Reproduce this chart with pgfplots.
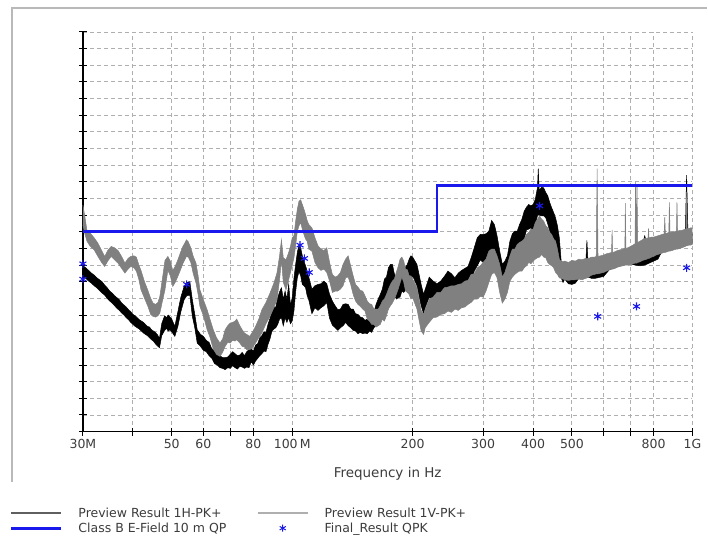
\documentclass[border=0pt]{standalone}
\usepackage{fontspec}
\setmainfont{DejaVu Sans}
\usepackage{pgfplots}
\pgfplotsset{compat=1.18}
\usepackage{pgfplotstable}
\usepgfplotslibrary{fillbetween}
\definecolor{limitblue}{RGB}{25,25,235}
\definecolor{tracegray}{RGB}{128,128,128}
\definecolor{gridgray}{RGB}{175,175,175}
\definecolor{labelgray}{RGB}{60,60,60}
\definecolor{legdark}{RGB}{95,95,95}
\definecolor{leglight}{RGB}{175,175,175}
\definecolor{framegray}{RGB}{185,185,185}

% Preview Result 1H-PK+ : lower / upper edge of the noisy trace (dBuV/m)
\pgfplotstableread{
f lo hi
30 23.3 24.9
30.5 23.0 24.6
31 22.6 24.2
31.5 22.3 23.8
32 21.9 23.5
32.5 21.6 23.1
33 21.2 22.8
33.5 20.8 22.5
34 20.5 22.0
34.5 20.0 21.6
35 19.6 21.1
35.5 19.3 20.8
36 18.9 20.4
36.5 18.5 20.1
37 18.2 19.8
37.5 17.8 19.3
38 17.5 19.0
38.5 17.1 18.7
39 16.8 18.3
39.5 16.4 18.0
40 16.1 17.6
40.5 15.8 17.4
41 15.6 17.1
41.5 15.4 16.8
42 15.1 16.6
42.5 14.8 16.4
43 14.6 16.1
43.5 14.4 15.8
44 14.1 15.7
44.5 13.8 15.3
45 13.6 15.1
45.5 13.2 14.9
46 12.9 14.6
46.6 12.6 14.0
47.2 14.4 16.2
48 15.2 17.4
48.5 15.5 17.1
49 15.1 17.5
49.5 15.3 17.2
50 15.0 16.9
50.9 14.3 15.8
51.8 15.8 18.0
52.7 18.0 20.2
53.7 19.8 21.8
54.5 20.4 22.4
55.5 20.5 22.5
56.3 17.3 19.8
57.1 15.6 17.6
57.9 13.3 15.3
59 12.8 14.6
60 12.2 14.3
61 12.0 13.7
62 11.4 13.4
63 11.0 12.4
64 10.2 12.1
65 10.0 11.6
66 9.6 11.4
67 9.5 11.1
68 9.3 11.1
69 9.6 11.2
70 9.5 11.6
71 9.9 12.0
72 9.6 11.7
73 9.4 11.4
74 9.8 11.5
75 9.7 11.9
76 9.5 11.4
77 9.7 12.0
78 9.6 12.3
79 10.5 12.4
80 10.0 12.1
81 10.6 13.0
82 11.0 13.2
83 11.4 14.1
84 11.7 14.4
85 12.1 15.0
86 12.0 14.9
87 13.1 16.1
88 13.9 17.0
89 15.1 18.0
90 15.4 18.6
91 15.6 18.7
92 16.1 20.1
93 16.9 21.0
94 17.1 21.6
95 15.9 19.9
96 17.1 21.1
97 16.4 19.9
98 17.1 22.1
99 16.2 19.0
100 16.6 20.1
101 18.1 23.0
102 21.0 25.1
103 23.1 26.9
104 24.0 28.1
105 23.4 27.6
106 22.1 26.4
107 21.9 25.6
108 21.6 24.9
109 20.4 24.1
110 19.8 23.2
112 17.7 21.4
114 18.6 21.9
116 18.2 22.1
118 18.6 22.2
120 18.9 22.6
122 19.4 22.2
124 17.0 20.6
126 16.0 19.6
128 15.6 18.9
130 15.2 18.3
132 15.6 18.4
134 15.9 19.1
136 16.4 19.2
138 15.9 19.1
140 15.6 18.4
142 15.2 18.4
144 15.1 17.7
146 14.7 17.6
148 14.9 17.2
150 14.7 17.1
152 14.8 16.7
154 14.7 16.9
156 15.1 16.9
158 14.9 17.4
160 15.6 17.9
162 15.9 19.1
164 16.9 19.9
166 17.4 20.6
168 18.6 21.4
170 19.4 22.9
172 20.1 23.2
174 20.9 24.6
176 22.1 25.1
178 21.4 25.1
180 20.6 23.7
182 19.9 23.1
184 20.1 22.9
186 20.2 23.4
188 21.1 23.9
190 20.9 24.6
192 21.3 24.7
194 21.4 25.1
196 22.6 25.9
198 22.9 26.4
200 23.4 26.2
205 21.9 25.1
210 18.9 22.1
213 17.7 20.6
215 18.6 21.4
220 20.2 23.2
225 19.8 22.6
230 19.7 22.2
235 20.0 22.6
240 20.1 23.3
245 20.9 24.1
250 20.6 23.7
255 20.2 23.1
260 20.6 23.8
265 21.1 24.2
270 21.2 24.5
275 21.6 24.8
280 22.4 26.1
285 24.1 27.6
290 24.9 29.1
295 25.8 29.6
300 25.4 29.6
305 25.9 29.7
310 25.9 30.1
315 27.1 31.7
320 26.9 31.1
325 25.6 29.4
330 22.9 27.1
335 22.8 25.1
340 22.9 25.6
345 23.6 26.4
350 24.9 28.6
355 26.1 29.7
360 26.2 30.1
365 26.6 30.1
370 26.9 31.1
375 28.1 31.9
380 28.9 33.1
385 30.3 33.7
390 30.4 34.1
395 30.6 33.9
400 30.2 34.1
405 31.1 34.9
410 32.4 36.6
412 32.6 39.5
414 32.5 36.2
420 32.4 36.7
425 32.4 36.6
430 32.1 35.9
435 31.2 35.4
440 30.1 34.4
445 29.4 33.6
450 29.1 32.9
455 27.9 32.1
460 27.1 30.9
465 25.1 29.1
470 23.1 25.6
475 22.4 24.1
480 22.9 24.0
490 22.2 23.9
500 22.1 23.7
510 22.3 23.8
520 23.0 23.8
530 23.0 23.9
540 23.1 23.9
545 23.1 28.7
550 23.2 24.0
560 23.0 24.2
570 23.0 24.3
580 23.1 24.4
590 23.2 24.5
600 23.3 24.7
620 24.3 25.2
640 24.6 25.4
660 24.9 25.7
680 25.1 26.0
700 25.2 26.2
720 25.0 26.4
740 24.9 26.6
760 25.0 29.4
780 25.3 27.2
800 25.6 27.5
820 25.9 27.8
840 27.1 28.0
860 27.3 28.3
880 27.5 28.6
900 27.6 28.8
920 27.8 29.0
940 27.9 29.2
960 28.1 29.4
967 28.1 38.5
975 28.2 29.5
990 28.2 29.6
1000 28.2 29.7
}\Hdata

% Preview Result 1V-PK+
\pgfplotstableread{
f lo hi
30 31.0 34.0
30.3 29.8 32.5
30.7 28.6 30.2
31.3 27.8 29.8
32 27.3 29.1
32.7 26.3 28.3
33.4 25.4 27.2
34.0 24.8 26.3
34.6 25.6 27.2
35.3 26.3 27.8
36.0 25.8 27.6
36.7 25.3 27.2
37.4 24.6 26.4
38.2 23.8 25.3
38.9 24.4 26.0
39.5 24.8 26.3
40.2 24.6 26.4
40.8 24.1 26.2
41.4 22.8 25.0
41.9 21.3 24.2
42.7 20.1 22.6
43.6 18.8 21.2
44.3 17.6 20.0
44.9 17.3 19.3
45.6 17.2 19.1
46.2 17.4 19.4
46.7 17.8 20.3
47.4 19.6 23.0
48.1 21.3 25.7
48.9 24.2 26.3
49.6 23.4 25.6
50.3 21.8 24.2
51.0 22.4 24.8
51.8 23.3 25.8
52.6 24.3 26.9
53.3 25.2 27.8
53.9 25.8 28.3
54.4 26.3 28.8
55.0 26.2 28.5
55.8 25.4 27.6
56.6 23.7 26.3
57.5 22.3 25.3
58.2 20.6 23.4
58.8 18.8 21.3
60.0 17.4 19.8
61.3 15.3 18.3
62.3 14.2 16.9
63.5 12.4 15.3
64.7 11.6 14.1
66.0 11.3 13.3
67 11.9 13.9
68 12.8 15.3
69 13.4 15.9
70 13.3 16.3
71 13.7 16.4
72 13.6 16.6
72.7 13.8 16.9
74 13.3 15.9
75 12.8 15.3
76 12.7 14.8
77 12.3 14.6
78.3 12.3 14.3
79.5 12.6 14.9
81 13.3 15.8
82.5 14.1 16.9
84 14.8 18.3
86 16.2 19.4
88 17.3 20.8
90 18.6 22.3
91.6 19.8 23.8
93 22.8 26.4
94 25.8 28.8
95 22.4 26.1
96.5 21.3 25.8
98 22.8 26.9
99 23.9 27.8
100 24.9 29.1
101 26.1 29.4
102 27.9 31.6
103 30.1 33.4
104 30.9 34.6
105 31.4 34.8
106 30.4 34.1
107 29.6 33.4
108 28.9 32.6
109 28.6 31.7
110 27.4 31.1
112 27.1 30.6
114 25.4 29.1
116 24.6 27.9
118 24.2 27.4
120 24.4 27.2
122 23.9 27.6
124 22.6 25.4
126 20.9 23.6
128 21.1 23.2
130 21.1 23.4
132 21.4 23.9
134 21.9 25.1
136 23.1 25.9
138 23.2 26.4
140 22.1 24.9
142 20.6 23.4
144 19.6 22.1
146 19.1 21.7
148 18.8 21.2
150 18.4 21.1
152 18.1 20.4
154 16.9 19.6
156 16.6 19.2
158 16.1 19.1
160 16.1 18.4
162 15.7 18.4
164 15.9 18.4
166 16.1 18.9
168 16.9 19.6
170 16.6 19.9
172 17.4 20.6
174 18.4 21.4
176 18.9 22.1
178 19.3 22.6
180 19.9 22.9
182 20.6 23.9
184 21.4 24.8
186 22.3 25.9
188 23.2 26.2
190 22.4 25.6
192 21.1 24.4
194 20.9 24.3
196 20.6 23.4
198 19.9 23.4
200 20.1 22.9
205 18.4 21.6
210 15.1 18.2
213 14.6 17.6
215 15.6 18.4
220 16.4 19.9
225 17.1 20.2
230 17.2 20.9
235 17.6 20.9
240 17.7 21.6
245 18.1 21.7
250 17.9 21.9
255 18.4 21.9
260 18.2 22.1
265 18.6 22.2
270 18.7 22.6
275 19.1 22.7
280 19.4 23.6
285 19.9 23.7
290 19.9 24.6
295 20.3 24.9
300 20.2 25.4
305 21.1 25.9
310 22.4 27.1
315 23.6 27.4
320 23.9 27.4
325 23.1 26.4
330 20.9 25.1
335 19.3 23.2
340 19.9 23.9
345 20.9 25.1
350 22.6 26.4
355 23.2 27.4
360 23.6 27.4
365 23.9 28.1
370 24.1 28.4
375 24.1 28.6
380 24.6 28.9
385 24.9 29.6
390 25.4 29.9
395 25.2 30.4
400 25.6 30.4
405 25.9 31.4
410 26.1 31.9
415 26.2 32.4
420 26.6 31.9
425 26.2 31.6
430 26.1 30.9
435 25.4 30.6
440 25.1 29.9
445 24.9 29.6
450 24.6 28.9
455 23.9 28.6
460 23.6 27.4
465 23.1 25.9
470 23.0 25.5
480 22.8 25.6
490 22.7 25.4
500 22.8 25.7
510 22.8 25.6
520 22.9 25.9
530 22.8 25.8
540 23.0 26.0
550 23.2 26.0
560 23.5 26.2
570 23.6 26.2
575 23.7 26.3
578 23.7 39.5
581 23.7 26.3
590 23.8 26.4
600 23.9 26.5
610 24.1 26.7
620 24.3 26.8
628 24.4 26.9
630 24.4 30.3
632 24.4 26.9
640 24.5 27.0
650 24.7 27.2
660 24.8 27.3
670 24.9 27.4
678 25.0 27.5
680 25.0 34.3
682 25.0 27.5
690 25.0 27.6
700 25.1 27.8
710 25.2 28.0
719 25.3 28.2
721 25.3 37.5
724 25.3 28.3
727 25.3 37.0
730 25.4 28.4
740 25.5 28.6
750 25.7 28.8
760 25.8 29.0
770 25.9 29.0
775 26.0 29.1
777 26.0 30.5
779 26.0 29.1
790 26.2 29.2
800 26.3 29.2
810 26.5 29.3
820 26.6 29.4
830 26.7 29.5
840 26.8 29.6
850 26.9 29.7
853 26.9 32.2
856 26.9 29.7
865 27.0 29.8
873 27.1 29.9
876 27.1 34.4
879 27.1 29.9
890 27.2 30.0
900 27.3 30.0
912 27.4 30.1
915 27.4 34.4
918 27.4 30.1
930 27.5 30.2
940 27.6 30.2
950 27.7 30.3
960 27.8 30.4
964 27.9 30.4
967 27.9 36.0
970 27.9 30.5
980 28.0 30.5
990 28.0 30.6
1000 28.1 30.6
}\Vdata

\begin{document}
\begin{tikzpicture}
\draw[framegray, line width=1.2bp] (12bp,60bp) -- (12bp,534bp) -- (708bp,534bp);
\begin{axis}[
  at={(83bp,110bp)}, anchor=south west,
  scale only axis, width=610bp, height=400bp,
  xmode=log, xmin=30, xmax=1000, ymin=0, ymax=60,
  axis lines*=left,
  axis line style={black, line width=1.3bp},
  xtick={30,40,50,60,70,80,100,200,300,400,500,600,700,800,1000},
  xticklabels={30M,,50,60,,80,100\,M,200,300,400,500,,,800,1G},
  xminorticks=false,
  ytick={0,2.5,5,7.5,10,12.5,15,17.5,20,22.5,25,27.5,30,32.5,35,37.5,40,42.5,45,47.5,50,52.5,55,57.5,60},
  yticklabels={},
  tick align=center,
  major tick length=8bp,
  tick style={black, line width=1bp},
  grid=major,
  major grid style={gridgray, line width=0.9bp, dash pattern=on 4bp off 3bp},
  xticklabel style={font=\fontsize{12.5bp}{14bp}\selectfont, text=labelgray},
  xlabel={Frequency in Hz},
  xlabel style={font=\fontsize{13.5bp}{15bp}\selectfont, text=labelgray,
    at={(axis description cs:0.5,-0.105)}, anchor=center},
  clip=false,
  legend columns=2,
  legend cell align=left,
  legend style={at={(axis description cs:-0.125,-0.18)}, anchor=north west,
    draw=none, fill=none, font=\fontsize{12.5bp}{14bp}\selectfont, text=labelgray,
    /tikz/every odd column/.append style={column sep=14bp},
    /tikz/every even column/.append style={column sep=28.5bp}},
  legend image code/.code={\draw[#1] (0bp,0bp) -- (50bp,0bp);},
]
\addlegendimage{legdark, line width=1.8bp}
\addlegendentry{Preview Result 1H-PK+}
\addlegendimage{leglight, line width=1.8bp}
\addlegendentry{Preview Result 1V-PK+}
\addlegendimage{limitblue, line width=2.6bp}
\addlegendentry{Class B E-Field 10 m QP}
\addlegendimage{draw=none, legend image code/.code={\path[draw=none] (0bp,0bp) -- (50bp,0bp);
   \draw[limitblue, line width=1bp] plot[only marks, mark=asterisk, mark size=3.5bp] coordinates {(25bp,0bp)};}}
\addlegendentry{Final\_Result QPK}

\addplot[name path=Hhi, black, line width=0.5bp, forget plot] table[x=f, y=hi]{\Hdata};
\addplot[name path=Hlo, black, line width=0.5bp, forget plot] table[x=f, y=lo]{\Hdata};
\addplot[black, forget plot] fill between[of=Hhi and Hlo, on layer=main];

\addplot[name path=Vhi, tracegray, line width=0.5bp, forget plot] table[x=f, y=hi]{\Vdata};
\addplot[name path=Vlo, tracegray, line width=0.5bp, forget plot] table[x=f, y=lo]{\Vdata};
\addplot[tracegray, forget plot] fill between[of=Vhi and Vlo, on layer=main];

\addplot[limitblue, line width=2.8bp, forget plot] coordinates {(30,30) (230,30) (230,37) (1000,37)};

\addplot[only marks, mark=asterisk, limitblue, mark size=4bp, mark options={line width=1.1bp}, forget plot]
  coordinates {(30,25.2) (30,22.9) (54.5,22.1) (104.6,28.0) (107.3,26.0) (110.3,23.9)
               (415,33.9) (580,17.3) (725,18.8) (967,24.6)};
\end{axis}
\path (0bp,0bp) rectangle (708bp,542bp);
\end{tikzpicture}
\end{document}
